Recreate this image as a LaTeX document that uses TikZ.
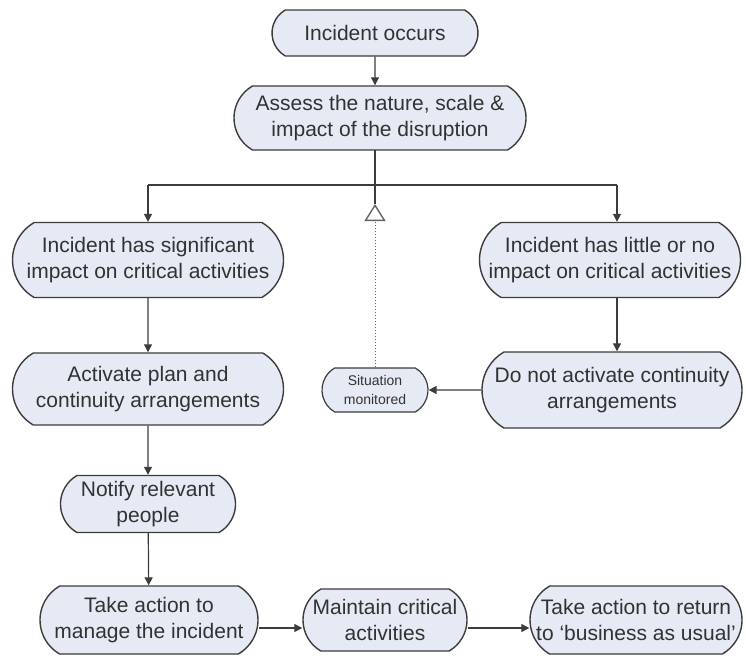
\documentclass[tikz,border=0pt]{standalone}
\usepackage{fontspec}
\setmainfont{Liberation Sans}
\usetikzlibrary{shapes.misc,arrows.meta}
\definecolor{boxfill}{RGB}{230,234,245}
\definecolor{boxline}{RGB}{60,60,60}
\definecolor{txt}{RGB}{50,50,50}
\tikzset{
  stadium/.style={rounded rectangle, rounded rectangle arc length=120, draw=boxline, line width=1.4pt, fill=boxfill,
    text=txt, align=center, inner sep=0pt, font=\fontsize{21}{26}\selectfont},
  smallstadium/.style={stadium, font=\fontsize{14}{19}\selectfont, line width=1.2pt},
  conn/.style={draw=boxline, line width=1.2pt},
  arr/.style={conn, -{Triangle[length=8pt,width=8pt]}},
}
\begin{document}
\begin{tikzpicture}[x=1pt,y=-1pt]
\useasboundingbox (0,0) rectangle (746,658);
\node[stadium, minimum width=206, minimum height=46] (occ) at (375,33) {Incident occurs};
\node[stadium, minimum width=292, minimum height=64] (assess) at (380,118) {Assess the nature, scale \&\\impact of the disruption};
\node[stadium, minimum width=271, minimum height=75] (sig) at (148,260) {Incident has significant\\impact on critical activities};
\node[stadium, minimum width=261, minimum height=75] (lit) at (610,260) {Incident has little or no\\impact on critical activities};
\node[stadium, minimum width=271, minimum height=72] (act) at (148,389) {Activate plan and\\continuity arrangements};
\node[stadium, minimum width=260, minimum height=76] (dont) at (612,390) {Do not activate continuity\\arrangements};
\node[smallstadium, minimum width=106, minimum height=44] (sit) at (375,390) {Situation\\monitored};
\node[stadium, minimum width=175, minimum height=57] (notify) at (148,504) {Notify relevant\\people};
\node[stadium, minimum width=218, minimum height=68] (manage) at (149,620) {Take action to\\manage the incident};
\node[stadium, minimum width=164, minimum height=62] (maint) at (385,620) {Maintain critical\\activities};
\node[stadium, minimum width=212, minimum height=68] (ret) at (636,620) {Take action to return\\to `business as usual'};

\coordinate (bar) at (375,185);
\coordinate (barL) at (148,185);
\coordinate (barR) at (617,185);
\coordinate (apex) at (375,204);

\draw[arr] (occ) -- (occ |- assess.north);
\draw[conn] (375,150) -- (bar);
\draw[conn] (barL) -- (barR);
\draw[arr] (barL) -- (sig.north);
\draw[arr] (barR) -- (barR |- lit.north);
\draw[conn] (bar) -- (apex);
\draw[draw=boxline!80, line width=1pt, dotted, -{Triangle[open,length=17pt,width=21pt,line width=1.4pt]}] (sit.north) -- (apex);
\draw[arr] (sig) -- (act);
\draw[arr] (barR |- lit.south) -- (barR |- dont.north);
\draw[arr] (dont) -- (sit);
\draw[arr] (act) -- (notify);
\draw[arr] (notify) -- (manage);
\draw[arr] (manage.east |- 0,628) -- (maint.west |- 0,628);
\draw[arr] (maint.east |- 0,628) -- (ret.west |- 0,628);
\end{tikzpicture}
\end{document}
